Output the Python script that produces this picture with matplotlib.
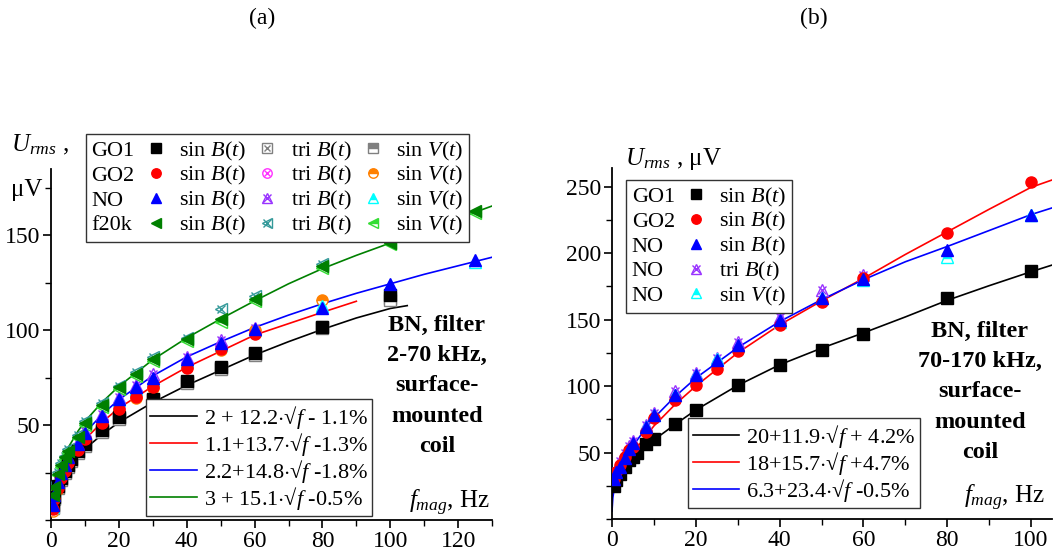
import numpy as np
import matplotlib
matplotlib.use('Agg')
import matplotlib.pyplot as plt
from matplotlib.ticker import MultipleLocator
from matplotlib.lines import Line2D

plt.rcParams['font.family'] = ['Liberation Serif', 'DejaVu Serif']
plt.rcParams['mathtext.fontset'] = 'custom'
plt.rcParams['mathtext.rm'] = 'Liberation Serif'
plt.rcParams['mathtext.it'] = 'Liberation Serif:italic'
plt.rcParams['mathtext.bf'] = 'Liberation Serif:bold'

# ---------------- (a) filter 2-70 kHz ----------------
fa_go1 = [0.5, 1, 2, 3, 4, 5, 6, 8, 10, 15, 20, 30, 40, 50, 60, 80, 100]
go1_sinB = [8, 12, 18, 22, 26, 29, 32, 36.5, 40, 47.5, 54.5, 64, 73.5, 80.5, 88, 102, 118.5]
go1_triB = [7, 11.5, 17.5, 21.5, 25.5, 28.5, 31.5, 36, 39.5, 47, 54, 63.5, 72.5, 80, 87.5, 101.5, 117]
go1_sinV = [6.5, 11, 17, 21, 25, 28, 31, 35.5, 39, 46.5, 53.5, 63, 72, 79.5, 87, 101, 116]

fa_go2 = [0.5, 1, 2, 3, 4, 5, 8, 10, 15, 20, 25, 30, 40, 50, 60]
go2_sinB = [6, 11, 17, 22, 26, 30, 37, 42.5, 51, 58.5, 65, 70, 80, 90, 98]
go2_triB = [6.5, 11.5, 17.5, 22.5, 26.5, 30.5, 37.5, 43, 51.5, 59, 65.5, 71, 81, 90.5, 99]
fa_go2v = [0.5, 1, 2, 3, 4, 5, 8, 10, 15, 20, 25, 30, 40, 50, 60, 80]
go2_sinV = [5, 10, 16.5, 21.5, 25.5, 29.5, 36.5, 42, 50.5, 57.5, 64.5, 69.5, 80.5, 89.8, 100, 115.8]

fa_no = [0.5, 1, 2, 3, 4, 5, 8, 10, 15, 20, 25, 30, 40, 50, 60, 80, 100, 125]
no_sinB = [8, 13, 20, 25, 29, 33, 40, 46, 55, 64, 70, 75, 85, 93.5, 100.5, 112, 124.5, 137]
fa_not = [0.5, 1, 2, 3, 4, 5, 8, 10, 15, 20, 25, 30, 40, 50, 60]
no_triB = [9, 14, 21, 26, 30, 34, 41, 47, 56, 65, 71, 77, 86, 95, 101]
no_sinV = [7, 12, 19, 24, 28, 32, 39.5, 45.5, 54, 63, 69, 74, 84, 92.5, 100, 113, 123.5, 136]

fa_f20 = [0.5, 1, 2, 3, 4, 5, 8, 10, 15, 20, 25, 30, 40, 50, 60, 80, 100, 125]
f20_sinB = [13, 17.5, 24.5, 29, 33, 36.5, 44, 51, 60.5, 70, 77, 85, 95.5, 106, 116.5, 134, 146, 163]
fa_f20t = [0.5, 1, 2, 3, 4, 5, 8, 10, 15, 20, 25, 30, 40, 50, 60, 80]
f20_triB = [14, 18.5, 25.5, 30, 34, 37.5, 45, 52, 61.5, 70.5, 78, 86, 96, 111, 118, 135]
f20_sinV = [12, 16.5, 23.5, 28, 32, 35.5, 43, 50, 59.5, 69, 76, 84, 94.5, 104.5, 115.5, 133, 145.5, 162]

# fitted curves
fit_a_go1_f = [0, 0.25, 0.5, 1, 2, 3, 5, 8, 10, 15, 20, 30, 40, 50, 60, 70, 80, 90, 100, 105]
fit_a_go1 = [2, 6, 9, 13, 18, 21.5, 27, 33.5, 37.5, 45, 51.5, 62, 71, 79, 87, 94, 100.5, 106.5, 111.5, 113]
fit_a_go2_f = [0, 0.25, 0.5, 1, 2, 3, 5, 8, 10, 15, 20, 30, 40, 50, 60, 70, 80, 90]
fit_a_go2 = [1, 6, 9, 13.5, 19.5, 24, 30.5, 38, 42.5, 51.5, 59, 70.5, 80.5, 89, 97.5, 103.5, 109.5, 115.3]
fit_a_f = [0, 0.25, 0.5, 1, 2, 3, 5, 8, 10, 15, 20, 30, 40, 50, 60, 70, 80, 90, 100, 110, 120, 130]
fit_a_no = [2, 7, 10.5, 15, 21.5, 26, 33, 41, 46, 55.5, 63.5, 76, 86, 94, 101.5, 108, 114, 119.5, 124.5, 129.5, 134, 138.5]
fit_a_f20 = [3, 9, 12.5, 17.5, 25, 30, 38, 47, 52, 62, 70.5, 84.5, 96, 106, 115.5, 124.5, 132.5, 139.5, 146, 152.5, 159, 165.5]

fit_a_labels = ['2 + 12.2$\\cdot$√$\\mathit{f}$ - 1.1%',
                '1.1+13.7$\\cdot$√$\\mathit{f}$ -1.3%',
                '2.2+14.8$\\cdot$√$\\mathit{f}$ -1.8%',
                '3 + 15.1$\\cdot$√$\\mathit{f}$ -0.5%']

# ---------------- (b) filter 70-170 kHz ----------------
fb_go1 = [0.5, 1, 2, 3, 4, 5, 6, 8, 10, 15, 20, 30, 40, 50, 60, 80, 100]
b_go1_sinB = [25, 29, 34, 39.4, 44.4, 47, 50, 56.5, 60.2, 71.5, 82, 101, 115.5, 127, 139, 166.5, 186.5]
fb = [0.5, 1, 2, 3, 4, 5, 8, 10, 15, 20, 25, 30, 40, 50, 60, 80, 100]
b_go2_sinB = [30, 35, 41, 47, 52, 54, 65.7, 75.8, 89.6, 101, 113, 126.7, 145.6, 163.5, 181.2, 215, 253.5]
b_no_sinB = [30, 35, 39.4, 46, 53, 57, 69.5, 78.3, 93.4, 108.4, 119.7, 131, 149.5, 166, 180.5, 202.6, 228.5]
fb_t = [0.5, 1, 2, 3, 4, 5, 8, 10, 15, 20, 25, 30, 40, 50, 60]
b_no_triB = [30, 36, 44, 50, 55, 59, 71, 80, 96, 110, 121, 133, 152, 172.4, 183.7]
b_no_sinV = [27, 32, 39, 46, 52, 56, 69, 78, 93, 108, 120, 130, 148, 166, 180, 197, 228.4]

fit_b_f = [0, 0.2, 0.5, 1, 2, 3, 5, 8, 10, 15, 20, 30, 40, 50, 60, 70, 80, 90, 100, 105]
fit_b_go1 = [20, 22, 24, 27.5, 32.5, 37, 44.5, 54, 59.5, 71, 82, 100.5, 116, 128.5, 140, 152, 164.5, 175.5, 186, 191]
fit_b_go2 = [18, 21, 24, 28, 35, 40, 50, 62, 70, 86, 100, 125, 146, 164, 181, 199, 216, 233, 249.5, 255]
fit_b_no = [6, 16, 22.5, 29, 38, 45, 55, 68, 76, 92, 106, 129, 148.5, 165, 180, 193.5, 205, 217, 229, 234]

fit_b_labels = ['20+11.9$\\cdot$√$\\mathit{f}$ + 4.2%',
                '18+15.7$\\cdot$√$\\mathit{f}$ +4.7%',
                '6.3+23.4$\\cdot$√$\\mathit{f}$ -0.5%']

note_a = 'BN, filter\n2-70 kHz,\nsurface-\nmounted\ncoil'
note_b = 'BN, filter\n70-170 kHz,\nsurface-\nmounted\ncoil'

# styles
c_go1, c_go1l = 'black', 'gray'
c_go2, c_go2t, c_go2v = 'red', '#ff33ff', '#ff8000'
c_no, c_not, c_nov = 'blue', '#9933ff', 'cyan'
c_f20, c_f20t, c_f20v = 'green', '#339999', '#33dd33'
ms = 8


def filled(ax, x, y, m, c, size=ms):
    return ax.plot(x, y, ls='none', marker=m, ms=size, mfc=c, mec=c, zorder=4)[0]


def crossed(ax, x, y, m, c, size=ms):
    a = ax.plot(x, y, ls='none', marker=m, ms=size, mfc='none', mec=c, mew=1.0, zorder=3)[0]
    b = ax.plot(x, y, ls='none', marker='x', ms=size * 0.7, mec=c, mew=1.0, zorder=3)[0]
    return (a, b)


def half(ax, x, y, m, c, size=ms):
    return ax.plot(x, y, ls='none', marker=m, ms=size, mfc=c, mec=c, mew=1.0,
                   fillstyle='top', markerfacecoloralt='white', zorder=3)[0]


def style_axes(ax, xmax, ymax, yticks):
    for s in ['top', 'right']:
        ax.spines[s].set_visible(False)
    for s in ['left', 'bottom']:
        ax.spines[s].set_linewidth(1.3)
    ax.set_xlim(0, xmax)
    ax.set_ylim(0, ymax)
    ax.xaxis.set_major_locator(MultipleLocator(20))
    ax.xaxis.set_minor_locator(MultipleLocator(10))
    ax.set_yticks(yticks)
    ax.yaxis.set_minor_locator(MultipleLocator(25))
    ax.tick_params(which='major', direction='out', length=6, width=1.2, labelsize=17, pad=2)
    ax.tick_params(which='minor', direction='out', length=4, width=1.0)


def text_only_first_column(leg, fig):
    # first legend column holds only the material names: no handle,
    # but same row height as the other columns so the rows line up
    r = fig.canvas.get_renderer()
    k = r.points_to_pixels(1.0)
    cols = leg._legend_handle_box.get_children()
    for row0, row1 in zip(cols[0].get_children(), cols[1].get_children()):
        tb = row1.get_children()[1].get_bbox(r)
        da = row0.get_children()[0]
        da.width = 0
        da.height = tb.height / k
        da.ydescent = -tb.y0 / k
        row0.sep = 0


legkw = dict(loc='upper left', borderaxespad=0, fontsize=16, handlelength=0.9,
             handletextpad=0.6, columnspacing=0.5, labelspacing=0.08, numpoints=1,
             markerscale=0.85, fancybox=False, edgecolor='#333333', framealpha=1,
             borderpad=0.25)
fitkw = dict(loc='lower left', borderaxespad=0, fontsize=16, handlelength=2.1,
             handletextpad=0.3, labelspacing=0.0, fancybox=False, edgecolor='#333333',
             framealpha=1, borderpad=0.2)

fig = plt.figure(figsize=(10.57, 5.56), dpi=100)
ax1 = fig.add_axes([0.0483, 0.0647, 0.4172, 0.6313])
ax2 = fig.add_axes([0.579, 0.0665, 0.4163, 0.6313])

# ---- panel (a)
la = []
for fx, fy, c in [(fit_a_go1_f, fit_a_go1, 'black'), (fit_a_go2_f, fit_a_go2, 'red'),
                  (fit_a_f, fit_a_no, 'blue'), (fit_a_f, fit_a_f20, 'green')]:
    la.append(ax1.plot(fx, fy, c=c, lw=1.2, zorder=2)[0])

h_go1 = [filled(ax1, fa_go1, go1_sinB, 's', c_go1), crossed(ax1, fa_go1, go1_triB, 's', c_go1l),
         half(ax1, fa_go1, go1_sinV, 's', c_go1l)]
h_go2 = [filled(ax1, fa_go2, go2_sinB, 'o', c_go2), crossed(ax1, fa_go2, go2_triB, 'o', c_go2t),
         half(ax1, fa_go2v, go2_sinV, 'o', c_go2v)]
h_no = [filled(ax1, fa_no, no_sinB, '^', c_no, 9), crossed(ax1, fa_not, no_triB, '^', c_not, 9),
        half(ax1, fa_no, no_sinV, '^', c_nov, 9)]
h_f20 = [filled(ax1, fa_f20, f20_sinB, '<', c_f20, 9), crossed(ax1, fa_f20t, f20_triB, '<', c_f20t, 9),
         half(ax1, fa_f20, f20_sinV, '<', c_f20v, 9)]

style_axes(ax1, 130, 185, [50, 100, 150])

blank = Line2D([], [], ls='none')
names_a = ['GO1', 'GO2', 'NO', 'f20k']
rows = [h_go1, h_go2, h_no, h_f20]
handles = [blank] * 4 + [r[0] for r in rows] + [r[1] for r in rows] + [r[2] for r in rows]
labels = names_a + ['sin $\\mathit{B(t)}$'] * 4 + ['tri $\\mathit{B(t)}$'] * 4 + ['sin $\\mathit{V(t)}$'] * 4
leg1 = ax1.legend(handles, labels, ncol=4, bbox_to_anchor=(0.079, 1.10), **legkw)
leg1.get_frame().set_linewidth(1.0)
text_only_first_column(leg1, fig)
ax1.add_artist(leg1)

leg1b = ax1.legend(la, fit_a_labels, bbox_to_anchor=(0.215, 0.011), **fitkw)
leg1b.get_frame().set_linewidth(1.0)

ax1.text(0.875, 0.585, note_a, transform=ax1.transAxes, ha='center', va='top',
         fontsize=17.5, fontweight='bold', linespacing=1.58)
ax1.text(0.995, 0.05, '$\\mathit{f}_{\\mathit{mag}}$, Hz', transform=ax1.transAxes,
         ha='right', va='center', fontsize=18)

# ---- panel (b)
lb = []
for fy, c in [(fit_b_go1, 'black'), (fit_b_go2, 'red'), (fit_b_no, 'blue')]:
    lb.append(ax2.plot(fit_b_f, fy, c=c, lw=1.2, zorder=2)[0])

hb = [filled(ax2, fb_go1, b_go1_sinB, 's', c_go1),
      filled(ax2, fb, b_go2_sinB, 'o', c_go2),
      filled(ax2, fb, b_no_sinB, '^', c_no, 9),
      crossed(ax2, fb_t, b_no_triB, '^', c_not, 9),
      half(ax2, fb, b_no_sinV, '^', c_nov, 9)]

style_axes(ax2, 105, 264, [50, 100, 150, 200, 250])

names_b = ['GO1', 'GO2', 'NO', 'NO', 'NO']
labels_b = names_b + ['sin $\\mathit{B(t)}$'] * 3 + ['tri $\\mathit{B(t)}$', 'sin $\\mathit{V(t)}$']
leg2 = ax2.legend([blank] * 5 + hb, labels_b, ncol=2, bbox_to_anchor=(0.032, 0.966), **legkw)
leg2.get_frame().set_linewidth(1.0)
text_only_first_column(leg2, fig)
ax2.add_artist(leg2)

leg2b = ax2.legend(lb, fit_b_labels, bbox_to_anchor=(0.173, 0.031), **fitkw)
leg2b.get_frame().set_linewidth(1.0)

ax2.text(0.836, 0.565, note_b, transform=ax2.transAxes, ha='center', va='top',
         fontsize=17.5, fontweight='bold', linespacing=1.58)
ax2.text(0.984, 0.06, '$\\mathit{f}_{\\mathit{mag}}$, Hz', transform=ax2.transAxes,
         ha='right', va='center', fontsize=18)

# axis titles / units
fig.text(0.0104, 0.727, '$\\mathit{U}_{\\mathit{rms}}$ ,', fontsize=18)
fig.text(0.0104, 0.648, 'μV', fontsize=18)
fig.text(0.591, 0.703, '$\\mathit{U}_{\\mathit{rms}}$ , μV', fontsize=18)
fig.text(0.248, 0.967, '(a)', fontsize=17, ha='center', va='center')
fig.text(0.770, 0.967, '(b)', fontsize=17, ha='center', va='center')

fig.savefig('out.png', dpi=100)
